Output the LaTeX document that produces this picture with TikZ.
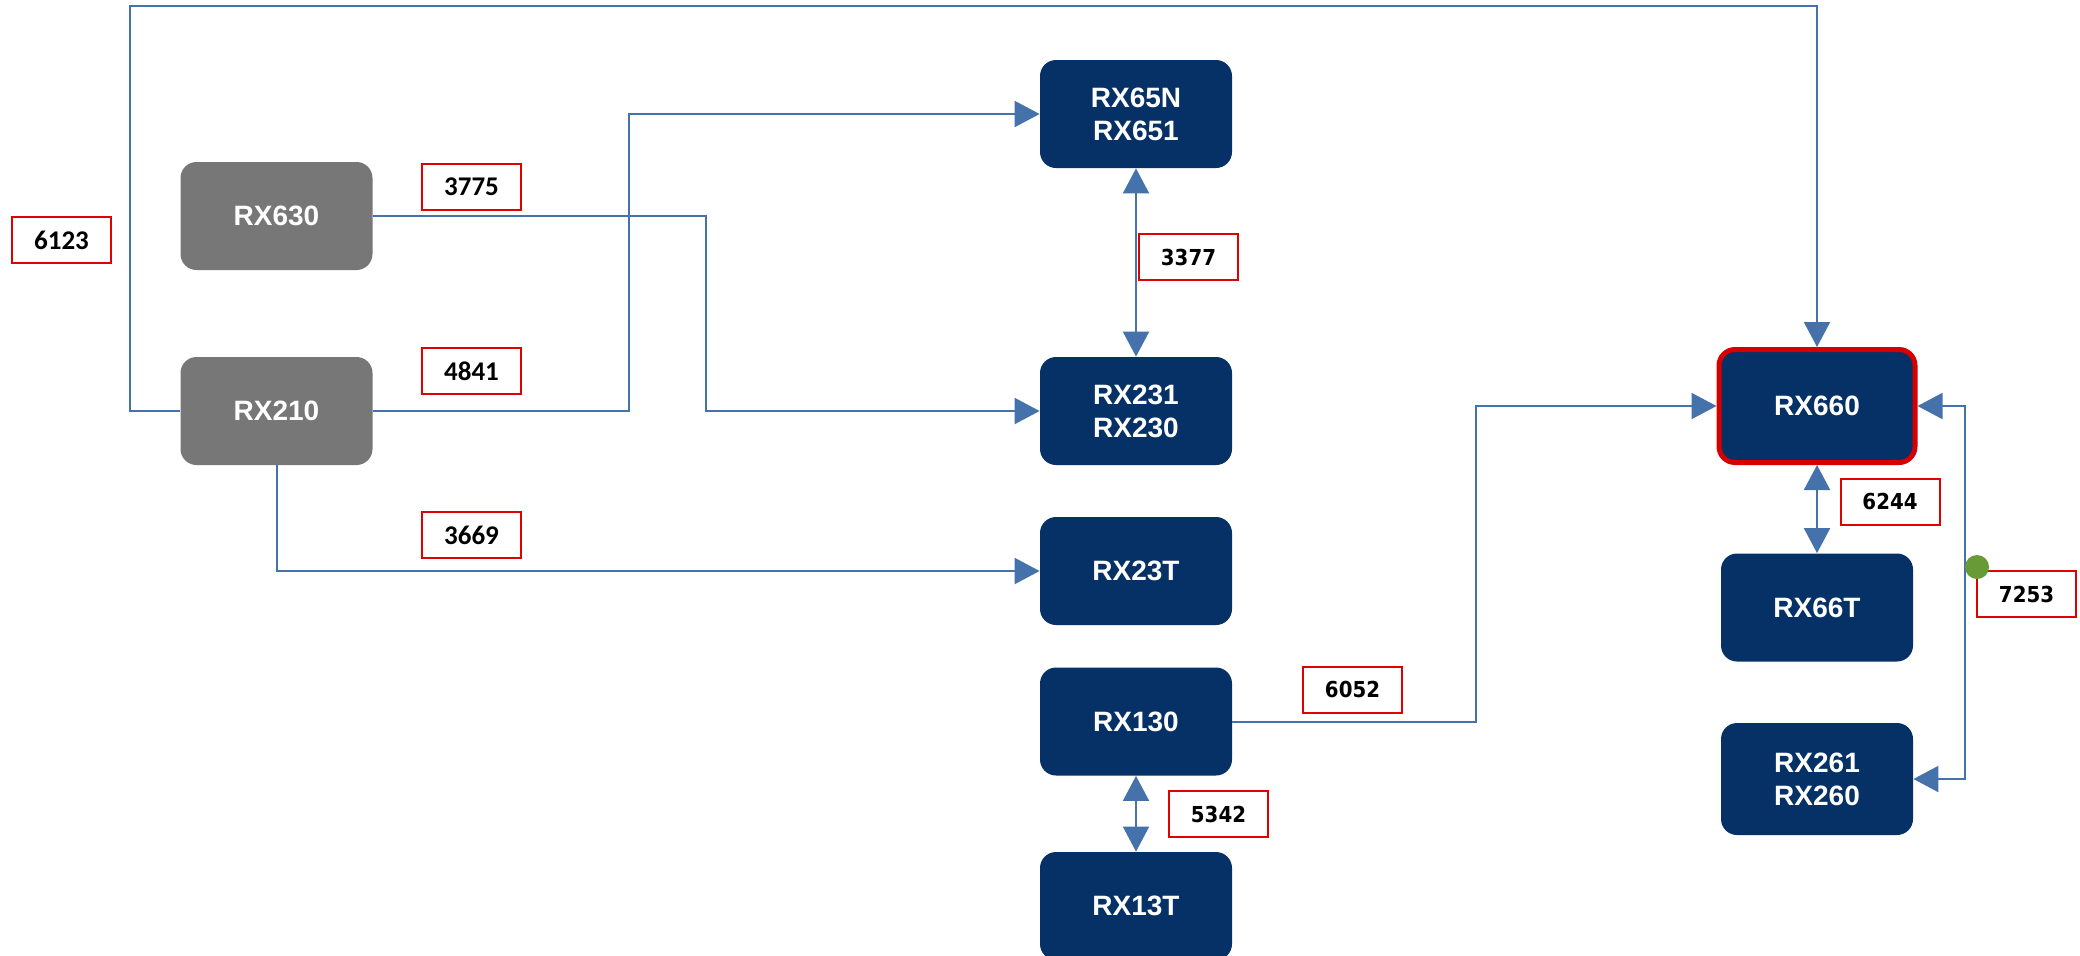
\documentclass[tikz,border=0pt]{standalone}
\usepackage{fontspec}
\setmainfont{Liberation Sans}
\newfontfamily\calib{Carlito}
\newfontfamily\tah{DejaVu Sans Condensed}
\usetikzlibrary{arrows.meta}
\definecolor{navy}{HTML}{063166}
\definecolor{boxgrey}{HTML}{777777}
\definecolor{lineblue}{HTML}{4672AB}
\definecolor{lblred}{HTML}{E00000}
\definecolor{redframe}{HTML}{D60000}
\definecolor{dotgreen}{HTML}{689A38}
\begin{document}
\begin{tikzpicture}[x=0.5pt,y=-0.5pt,
  >={Triangle[length=12.5pt,width=13pt]},
  box/.style={rectangle, rounded corners=8pt, minimum width=96pt, minimum height=54pt,
    inner sep=0pt, text=white, align=center,
    font=\fontsize{14}{16.5}\selectfont\bfseries},
  navybox/.style={box, fill=navy},
  greybx/.style={box, fill=boxgrey},
  lbl/.style={draw=lblred, line width=1pt, fill=white, minimum width=49.5pt,
    minimum height=23pt, inner sep=0pt, text=black},
  lblA/.style={lbl, font=\calib\bfseries\fontsize{13.5}{16}\selectfont},
  lblB/.style={lbl, font=\tah\bfseries\fontsize{11}{13}\selectfont},
  conn/.style={draw=lineblue, line width=1pt}
]
\useasboundingbox[fill=white] (0,0) rectangle (2080,955);

% boxes
\node[greybx] (RX630) at (276.5,216) {RX630};
\node[greybx] (RX210) at (276.5,411) {RX210};
\node[navybox] (RX65N) at (1136,114) {RX65N\\RX651};
\node[navybox] (RX231) at (1136,411) {RX231\\RX230};
\node[navybox] (RX23T) at (1136,571) {RX23T};
\node[navybox] (RX130) at (1136,721.5) {RX130};
\node[navybox] (RX13T) at (1136,906) {RX13T};
\node[navybox, draw=redframe, line width=2.5pt, minimum width=98pt, minimum height=56.5pt] (RX660) at (1817,406) {RX660};
\node[navybox] (RX66T) at (1817,607.5) {RX66T};
\node[navybox, minimum height=56pt] (RX261) at (1817,779) {RX261\\RX260};

% labels
\node[lblA] (l6123) at (61.5,240) {6123};
\node[lblA] (l3775) at (471.5,187) {3775};
\node[lblA] (l4841) at (471.5,371) {4841};
\node[lblA] (l3669) at (471.5,535) {3669};
\node[lblB] (l3377) at (1188.5,257) {3377};
\node[lblB] (l6244) at (1890,501.5) {6244};
\node[lblB] (l7253) at (2026.5,594) {7253};
\node[lblB] (l6052) at (1352.5,689.5) {6052};
\node[lblB] (l5342) at (1218.5,814) {5342};

% junction coordinates
\coordinate (c1) at (130,6);
\coordinate (c2) at (706,216);
\coordinate (c3) at (629,411);
\coordinate (c4) at (1476,721.5);
\coordinate (c5) at (1965,779);

% connectors
\draw[conn,->] (RX210.west) -| (c1) -| (RX660.north);
\draw[conn,->] (RX630.east) -- (c2) |- (RX231.west);
\draw[conn,->] (RX210.east) -- (c3) |- (RX65N.west);
\draw[conn,->] (RX210.south) |- (RX23T.west);
\draw[conn,<->] (RX65N.south) -- (RX231.north);
\draw[conn,->] (RX130.east) -- (c4) |- (RX660.west);
\draw[conn,<->] (RX660.south) -- (RX66T.north);
\draw[conn,<->] (RX130.south) -- (RX13T.north);
\draw[conn,<->] (RX261.east) -- (c5) |- (RX660.east);

\node[circle, fill=dotgreen, minimum size=12pt, inner sep=0pt] (dot) at (1977,567) {};
\end{tikzpicture}
\end{document}
